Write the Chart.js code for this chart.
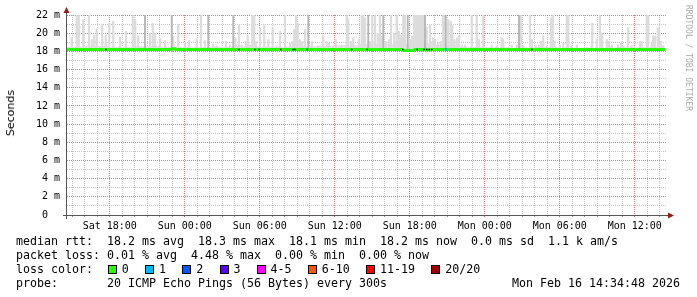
<!DOCTYPE html>
<html><head><meta charset="utf-8">
<script src="https://cdn.jsdelivr.net/npm/chart.js@4.4.1/dist/chart.umd.min.js"></script>
<style>
html,body{margin:0;padding:0;background:#fff;}
#wrap{position:relative;width:697px;height:297px;overflow:hidden;background:#fff;}
canvas{position:absolute;left:0;top:0;}
.t{position:absolute;font-family:'DejaVu Sans Mono',monospace;font-size:11.63px;line-height:14px;white-space:pre;color:#000;}
.sq{position:absolute;width:7px;height:7px;border:1px solid #000;box-sizing:content-box;}
#ylab{position:absolute;font-family:'DejaVu Sans',sans-serif;font-size:11px;line-height:11px;writing-mode:vertical-rl;transform:rotate(180deg);left:5px;top:90px;color:#000;}
#wm{position:absolute;font-family:'DejaVu Sans Mono',monospace;font-size:8px;line-height:8px;writing-mode:vertical-rl;left:684px;top:5px;color:#aaa;}
</style></head><body>
<div id="wrap">
<canvas id="c" width="697" height="297"></canvas>
<div id="ylab">Seconds</div>
<div id="wm">RRDTOOL / TOBI OETIKER</div>
<div id="legend"></div>
</div>
<script>
// ---- time axis: hours since Sat 00:00 ----
const xStart = 14.58;   // Sat 14:34:48
const xEnd = 62.58;     // Mon 14:34:48
const xTickHours = [18, 24, 30, 36, 42, 48, 54, 60];
const xTickLabels = ['Sat 18:00','Sun 00:00','Sun 06:00','Sun 12:00','Sun 18:00','Mon 00:00','Mon 06:00','Mon 12:00'];
const yTickValues = [0,2,4,6,8,10,12,14,16,18,20,22];
const yTickLabels = ['0  ','2 m','4 m','6 m','8 m','10 m','12 m','14 m','16 m','18 m','20 m','22 m'];

// ---- median rtt (ms) ----
const medianHours = [14.58, 16, 18, 20, 22, 22.95, 23.0, 23.25, 23.3, 26, 30, 34, 38, 41.4, 41.5, 42.3, 42.4, 43.3, 43.4, 44, 48, 52, 56, 60, 62.45];
const medianValues = [18.2, 18.2, 18.2, 18.2, 18.2, 18.2, 18.3, 18.3, 18.2, 18.2, 18.2, 18.2, 18.2, 18.2, 18.1, 18.1, 18.2, 18.2, 18.15, 18.2, 18.2, 18.2, 18.2, 18.2, 18.2];
// loss-coloured stretch (1 of 20 lost)
const lossHours = [44.82, 44.98];
const lossValues = [18.2, 18.2];

// ---- smoke: low band above the median ----
const baseHours = [14.58, 16, 18, 20, 22, 24, 26, 28, 30, 32, 34, 36, 38, 40, 42, 44, 46, 48, 50, 52, 54, 56, 58, 60, 62, 62.3];
const baseTops  = [18.5, 18.6, 18.5, 18.55, 18.5, 18.45, 18.5, 18.55, 18.5, 18.55, 18.6, 18.7, 18.8, 18.8, 18.9, 18.7, 18.5, 18.45, 18.4, 18.45, 18.4, 18.4, 18.45, 18.45, 18.5, 18.5];

// ---- smoke spikes (max ping, ms) ----
const spikeHours = [14.96,15.36,15.52,15.88,16.34,16.56,16.76,16.96,17.40,17.68,17.96,18.28,18.82,19.30,19.84,20.04,20.28,21.22,21.44,21.62,22.02,22.42,23.08,23.48,24.02,24.34,24.96,25.30,25.62,26.28,26.56,27.30,27.62,28.06,28.34,28.56,28.88,29.04,29.22,29.40,29.56,29.70,30.02,30.36,30.68,31.04,31.36,31.62,32.02,32.42,32.64,32.76,32.90,33.04,33.22,33.40,33.62,34.16,34.68,35.08,35.36,35.54,35.88,36.08,36.56,36.96,37.08,37.30,37.48,37.94,38.16,38.28,38.42,38.82,39.00,39.22,39.44,39.62,39.76,40.08,40.34,40.50,40.76,40.96,41.14,41.30,41.48,41.62,42.02,42.20,42.36,42.46,42.56,42.66,42.74,42.90,43.08,43.36,43.62,43.88,44.02,44.28,44.50,44.66,44.76,45.08,45.28,45.40,45.56,45.76,45.94,46.16,46.42,46.96,47.36,47.54,47.88,48.56,48.96,49.36,49.48,50.16,50.56,50.88,51.08,51.36,51.62,51.76,52.08,52.34,52.50,52.68,52.96,53.30,53.44,53.56,54.02,54.28,54.56,54.68,54.90,55.36,56.16,56.56,56.60,56.96,57.22,57.40,57.76,57.94,58.16,58.68,58.90,59.08,59.48,59.76,60.42,60.56,60.96,61.08,61.36,61.48,61.62,61.84,61.94,62.08,62.28];
const spikeTops = [19.5,22,22,21.5,22,19.3,19.8,20.5,21.0,19.8,21.1,21.3,19.6,20.2,22,21.5,19.7,20.0,21.1,20.0,19.4,19.2,19.7,21.0,18.9,19.2,19.4,22,19.2,18.8,18.6,19.1,18.7,19.5,20.9,18.7,19.1,19.7,18.7,22,22,19.1,20.6,20.9,19.3,20.6,18.6,20.2,22,18.9,19.1,20.4,22,21.1,19.3,19.1,20.4,19.1,18.6,19.7,19.1,18.9,18.6,19.3,18.7,22,21.6,19.1,19.5,19.3,22,22,21.7,19.1,22,22,20.0,22,19.7,19.1,19.3,22,20.0,22,20.2,19.8,22,22,19.3,19.7,22,22,22,22,22,22,22,20.6,20.9,19.5,19.3,18.9,19.1,22,22,21.5,21.3,20.9,19.3,19.5,19.7,18.7,18.7,22,22,19.3,22,18.7,18.6,19.5,19.3,18.7,18.7,22,18.6,18.4,22,19.3,18.6,18.7,19.1,19.7,18.6,21.7,22,19.1,18.7,18.9,22,22,18.6,18.7,18.4,18.6,21.1,19.3,22,20.0,19.3,19.1,18.7,18.7,18.9,18.6,20.6,18.7,19.1,19.1,22,22,18.9,19.7,19.7,20.6,20.6,19.1,18.6];
const darkHours = [20.82, 22.96, 25.88, 27.88, 33.88, 38.68, 39.88, 41.84, 43.22, 44.88, 50.74];
const darkTops  = [22, 22, 22, 22, 22, 22, 22, 22, 22, 22, 22];
// darkest pings sitting on the median
const dotHours = [17.70, 28.34, 29.62, 29.96, 31.68, 32.68, 32.82, 33.80, 37.36, 38.60, 41.44, 42.60, 43.14, 43.36, 43.56, 43.76, 51.78];

// ---- legend text ----
const rttStats = ['18.2 ms avg', '18.3 ms max', '18.1 ms min', '18.2 ms now', '0.0 ms sd', '1.1 k am/s'];
const lossStats = ['0.01 % avg', '4.48 % max', '0.00 % min', '0.00 % now'];
const lossLabels = ['0','1','2','3','4-5','6-10','11-19','20/20'];
const lossColors = ['#26ff00','#00b8ff','#0059ff','#5e00ff','#ff00ff','#ff5500','#ff0000','#a00000'];
const probeText = '20 ICMP Echo Pings (56 Bytes) every 300s';
const stampText = 'Mon Feb 16 14:34:48 2026';

// ---- legend DOM ----
const lg = document.getElementById('legend');
function addText(txt, x, y){ const d=document.createElement('div'); d.className='t'; d.style.left=x+'px'; d.style.top=y+'px'; d.textContent=txt; lg.appendChild(d); return d; }
addText('median rtt:  ' + rttStats.join('  '), 16, 234);
addText('packet loss: ' + lossStats.join('  '), 16, 248);
addText('loss color:', 16, 262);
let lx = 108;
lossLabels.forEach((l,i)=>{
  const s=document.createElement('div'); s.className='sq'; s.style.left=lx+'px'; s.style.top='265px'; s.style.background=lossColors[i]; lg.appendChild(s);
  addText(l, lx+13.8, 262);
  lx = lx + 13.8 + l.length*7.0 + 16.4;
});
addText('probe:', 16, 276);
addText(probeText, 107, 276);
addText(stampText, 512, 276);

// ---- chart ----
const RED = 'rgba(228,70,70,0.75)';
const GRAY = 'rgba(150,150,150,0.55)';
const axisPlugin = {
  id: 'rrdaxes',
  afterDraw(chart){
    const c = chart.ctx, a = chart.chartArea;
    const ax = a.left - 0.5, ay = a.bottom + 0.5;
    c.save();
    c.strokeStyle = '#555'; c.lineWidth = 1;
    c.beginPath();
    c.moveTo(ax, a.bottom + 4); c.lineTo(ax, a.top - 3);
    c.moveTo(a.left - 4, ay); c.lineTo(a.right + 2, ay);
    c.stroke();
    c.fillStyle = 'rgb(150,28,28)';
    c.beginPath(); c.moveTo(ax, a.top - 8); c.lineTo(ax - 3, a.top - 2); c.lineTo(ax + 3, a.top - 2); c.closePath(); c.fill();
    c.beginPath(); c.moveTo(a.right + 7, ay); c.lineTo(a.right + 1, ay - 3); c.lineTo(a.right + 1, ay + 3); c.closePath(); c.fill();
    c.restore();
  }
};

Chart.defaults.font.family = "'DejaVu Sans Mono', monospace";
Chart.defaults.font.size = 10;
Chart.defaults.color = '#000';

new Chart(document.getElementById('c'), {
  type: 'bar',
  data: { datasets: [
    { type:'line', label:'smoke base', data: baseHours.map((h,i)=>({x:h,y:baseTops[i]})), fill:{value:18.2}, backgroundColor:'#e4e4e4', borderWidth:0, pointRadius:0, stepped:true, order:6 },
    { type:'bar', label:'smoke', data: spikeHours.map((h,i)=>({x:h,y:[18.2,spikeTops[i]]})), backgroundColor:'#dcdcdc', barThickness:1.6, grouped:false, order:5 },
    { type:'bar', label:'smoke dark', data: darkHours.map((h,i)=>({x:h,y:[18.2,darkTops[i]]})), backgroundColor:'#b5b5b5', barThickness:1.2, grouped:false, order:4 },
    { type:'line', label:'median rtt', data: medianHours.map((h,i)=>({x:h,y:medianValues[i]})), borderColor:'#26ff00', borderWidth:3, pointRadius:0, fill:false, tension:0, order:3 },
    { type:'line', label:'loss 1', data: lossHours.map((h,i)=>({x:h,y:lossValues[i]})), borderColor:'#00b8ff', borderWidth:3, pointRadius:0, fill:false, order:2 },
    { type:'scatter', label:'dots', data: dotHours.map(h=>({x:h,y:18.2})), pointStyle:'rect', pointRadius:1, backgroundColor:'#000', borderWidth:0, order:1 }
  ]},
  options: {
    responsive:false, animation:false, devicePixelRatio:1,
    layout:{ padding:{ left:0, right:30, top:15, bottom:0 } },
    plugins:{ legend:{display:false}, tooltip:{enabled:false} },
    scales:{
      x:{
        type:'linear', min:xStart, max:xEnd, offset:false,
        afterFit(s){ s.height = 82; },
        afterBuildTicks(s){ const t=[]; for(let h=Math.ceil(xStart); h<=Math.floor(xEnd); h++) t.push({value:h}); s.ticks=t; },
        border:{display:false, dash:[1,1]},
        grid:{ offset:false, drawTicks:true, tickLength:2, tickBorderDash:[], lineWidth:1,
          color:(ctx)=> ctx.tick && xTickHours.includes(ctx.tick.value) ? RED : GRAY,
          tickColor:(ctx)=> ctx.tick && xTickHours.includes(ctx.tick.value) ? 'rgba(200,60,60,0.8)' : 'rgba(120,120,120,0.8)' },
        ticks:{ autoSkip:false, maxRotation:0, padding:3, color:'#000',
          callback:(v)=>{ const i=xTickHours.indexOf(v); return i>=0 ? xTickLabels[i] : ''; } }
      },
      y:{
        min:0, max:22,
        afterFit(s){ s.width = 67; },
        border:{display:false, dash:[1,1]},
        grid:{ drawTicks:false, lineWidth:1,
          color:(ctx)=> ctx.tick && ctx.tick.value % 2 === 0 ? RED : GRAY },
        ticks:{ stepSize:1, autoSkip:false, padding:7, color:'#000',
          callback:(v)=>{ const i=yTickValues.indexOf(v); return i>=0 ? yTickLabels[i] : ''; } }
      }
    }
  },
  plugins:[axisPlugin]
});
</script>
</body></html>
